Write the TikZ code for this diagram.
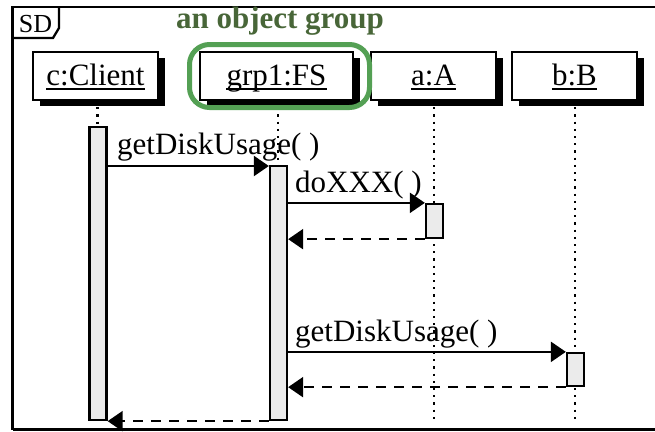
\documentclass[tikz,border=0pt]{standalone}
\usepackage{fontspec}
\setmainfont{Liberation Serif}
\usetikzlibrary{arrows.meta}
\definecolor{grpgreen}{RGB}{84,160,84}
\definecolor{grptext}{RGB}{72,102,56}
\definecolor{actfill}{RGB}{235,235,235}

\begin{document}
\begin{tikzpicture}[x=1pt,y=-1pt,
  frameline/.style={line width=2.3pt},
  objbox/.style={draw, line width=2.3pt, fill=white, minimum height=48pt, inner sep=0pt},
  objshadow/.style={fill=black, minimum height=48pt, inner sep=0pt},
  objname/.style={font=\fontsize{31}{31}\selectfont, inner sep=0pt, anchor=base},
  uline/.style={line width=1.6pt},
  lifeline/.style={line width=2.2pt, dash pattern=on 2.2pt off 5pt},
  actbar/.style={draw, line width=2.3pt, fill=actfill, minimum width=17pt, inner sep=0pt},
  call/.style={line width=2.3pt, -{Triangle[length=15pt,width=20pt]}},
  reply/.style={line width=2.3pt, dash pattern=on 10pt off 8pt, -{Triangle[length=15pt,width=20pt]}},
  msg/.style={font=\fontsize{31}{31}\selectfont, inner sep=0pt, anchor=base west},
]
\useasboundingbox (0,0) rectangle (655,431);
\fill[white] (0,0) rectangle (655,431);

% sequence diagram frame and its tab
\draw[frameline] (12.5,429.5) -- (12.5,7) -- (660,7);
\draw[frameline] (12.5,429.5) -- (660,429.5);
\draw[frameline] (12.5,38) -- (53,38) -- (59,28) -- (59,7);
\node[font=\fontsize{26}{26}\selectfont, inner sep=0pt, anchor=base] (sd) at (35.5,32) {SD};

% lifelines
\coordinate (lcTop) at (97.5,100);   \coordinate (lcBot) at (97.5,420);
\coordinate (lgTop) at (278,100);    \coordinate (lgBot) at (278,420);
\coordinate (laTop) at (434,100);    \coordinate (laBot) at (434,420);
\coordinate (lbTop) at (575,100);    \coordinate (lbBot) at (575,420);
\draw[lifeline] (lcTop) -- (lcBot);
\draw[lifeline] (lgTop) -- (lgBot);
\draw[lifeline] (laTop) -- (laBot);
\draw[lifeline] (lbTop) -- (lbBot);

% object headers with drop shadows
\node[objshadow, minimum width=125pt] (cs) at (102.5,82) {};
\node[objbox, minimum width=125pt] (cbox) at (95.5,76) {};
\node[objname] (cname) at (95.5,85) {c:Client};

\node[objshadow, minimum width=153pt] (gs) at (283.5,82) {};
\node[objbox, minimum width=153pt] (gbox) at (276.5,76) {};
\node[objname] (gname) at (276.5,85) {grp1:FS};

\node[objshadow, minimum width=125pt] (as) at (440.5,82) {};
\node[objbox, minimum width=125pt] (abox) at (433.5,76) {};
\node[objname] (aname) at (433.5,85) {a:A};

\node[objshadow, minimum width=125pt] (bs) at (581.5,82) {};
\node[objbox, minimum width=125pt] (bbox) at (574.5,76) {};
\node[objname] (bname) at (574.5,85) {b:B};

\foreach \n in {cname,gname,aname,bname}
  \draw[uline] ([yshift=-4pt]\n.base west) -- ([yshift=-4pt]\n.base east);

% object group highlight
\node[draw=grpgreen, line width=5pt, rounded corners=20pt, minimum width=180pt,
      minimum height=63pt, inner sep=0pt] (grp) at (279.5,76) {};
\node[font=\bfseries\fontsize{31}{31}\selectfont, text=grptext, inner sep=0pt,
      anchor=base] (grplabel) at (280,28) {an object group};

% activation bars
\node[actbar, minimum height=293pt] (cbar) at (98,273.5) {};
\node[actbar, minimum height=254pt] (gbar) at (278.5,293) {};
\node[actbar, minimum height=34pt] (abar) at (434.5,221) {};
\node[actbar, minimum height=33pt] (bbar) at (575.5,369.5) {};

% messages
\draw[call] (cbar.east |- 0,166) -- (gbar.west |- 0,166);
\node[msg] (m1) at (117,154) {getDiskUsage( )};

\draw[call] (gbar.east |- abar.north) -- (abar.north west);
\node[msg] (m2) at (295,192) {doXXX( )};
\draw[reply] (abar.south west) -- (gbar.east |- abar.south);

\draw[call] (gbar.east |- bbar.north) -- (bbar.north west);
\node[msg] (m3) at (295,341) {getDiskUsage( )};
\draw[reply] (bbar.south west) -- (gbar.east |- bbar.south);

\draw[reply] (gbar.south west) -- (cbar.south east);
\end{tikzpicture}
\end{document}
